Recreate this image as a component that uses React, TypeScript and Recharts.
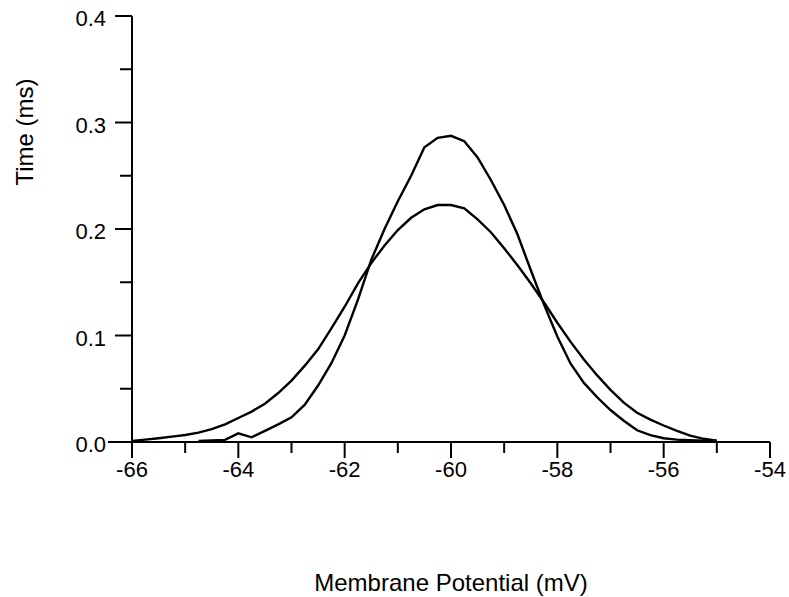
import React from 'react';
import { LineChart, Line, XAxis, YAxis } from 'recharts';

const wideX = [-66, -65.75, -65.5, -65.25, -65, -64.75, -64.5, -64.25, -64, -63.75, -63.5, -63.25, -63, -62.75, -62.5, -62.25, -62, -61.75, -61.5, -61.25, -61, -60.75, -60.5, -60.25, -60, -59.75, -59.5, -59.25, -59, -58.75, -58.5, -58.25, -58, -57.75, -57.5, -57.25, -57, -56.75, -56.5, -56.25, -56, -55.75, -55.5, -55.25, -55];
const wideY = [0.001, 0.0022, 0.0035, 0.005, 0.0066, 0.0088, 0.012, 0.0166, 0.0225, 0.0285, 0.036, 0.046, 0.0576, 0.0717, 0.087, 0.1067, 0.127, 0.149, 0.168, 0.1845, 0.199, 0.2105, 0.2185, 0.2225, 0.2225, 0.2194, 0.209, 0.197, 0.182, 0.166, 0.149, 0.131, 0.112, 0.094, 0.0775, 0.0625, 0.049, 0.037, 0.0275, 0.021, 0.0155, 0.0105, 0.006, 0.003, 0.0012];

const narrowX = [-64.75, -64.5, -64.25, -64, -63.75, -63.5, -63.25, -63, -62.75, -62.5, -62.25, -62, -61.75, -61.5, -61.25, -61, -60.75, -60.5, -60.25, -60, -59.75, -59.5, -59.25, -59, -58.75, -58.5, -58.25, -58, -57.75, -57.5, -57.25, -57, -56.75, -56.5, -56.25, -56, -55.75, -55.5, -55.25, -55];
const narrowY = [0.001, 0.0015, 0.002, 0.0081, 0.0044, 0.0105, 0.0166, 0.0232, 0.035, 0.053, 0.074, 0.1, 0.1336, 0.171, 0.2, 0.226, 0.25, 0.2767, 0.2856, 0.2875, 0.2824, 0.2672, 0.246, 0.2225, 0.195, 0.1615, 0.129, 0.099, 0.0735, 0.0555, 0.042, 0.03, 0.0199, 0.011, 0.0065, 0.0035, 0.0022, 0.0017, 0.0013, 0.001];

const xTicks = [-66, -65, -64, -63, -62, -61, -60, -59, -58, -57, -56, -55, -54];
const xMajor = [-66, -64, -62, -60, -58, -56, -54];
const yTicks = [0, 0.05, 0.1, 0.15, 0.2, 0.25, 0.3, 0.35, 0.4];
const yMajor = [0, 0.1, 0.2, 0.3, 0.4];

const xTitle = 'Membrane Potential (mV)';
const yTitle = 'Time (ms)';

const wideData = wideX.map((x, i) => ({ x, y: wideY[i] }));
const narrowData = narrowX.map((x, i) => ({ x, y: narrowY[i] }));

const FONT = '"Liberation Sans", Arial, sans-serif';

const XTick = (props: any) => {
  const { x, y, payload } = props;
  const v = payload.value;
  const major = xMajor.includes(v);
  return (
    <g>
      <line x1={x} x2={x} y1={y} y2={y + (major ? 16 : 11)} stroke="#000" strokeWidth={2} />
      {major && (
        <text x={x} y={y + 35} textAnchor="middle" fontSize={22} fontFamily={FONT} fill="#000">
          {String(v)}
        </text>
      )}
    </g>
  );
};

const YTick = (props: any) => {
  const { x, y, payload } = props;
  const v = payload.value;
  const major = yMajor.some((m) => Math.abs(m - v) < 1e-9);
  const len = v === 0 ? 24 : major ? 17 : 12;
  return (
    <g>
      <line x1={x - len} x2={x} y1={y} y2={y} stroke="#000" strokeWidth={2} />
      {major && (
        <text x={x - 26} y={y + 10} textAnchor="end" fontSize={22} fontFamily={FONT} fill="#000">
          {v.toFixed(1)}
        </text>
      )}
    </g>
  );
};

const XTitle = (props: any) => {
  const vb = props.viewBox || { x: 132, y: 442, width: 638, height: 155 };
  return (
    <text x={vb.x + vb.width / 2} y={vb.y + 149} textAnchor="middle" fontSize={24} fontFamily={FONT} fill="#000">
      {xTitle}
    </text>
  );
};

const YTitle = (props: any) => {
  const vb = props.viewBox || { x: 0, y: 16, width: 132, height: 426 };
  const cx = vb.x + 33;
  const cy = vb.y + 116;
  return (
    <text x={cx} y={cy} transform={`rotate(-90 ${cx} ${cy})`} textAnchor="middle" fontSize={24} fontFamily={FONT} fill="#000">
      {yTitle}
    </text>
  );
};

export default function App() {
  return (
    <div>
      <style>{'body{margin:0;background:#fff}'}</style>
      <LineChart width={789} height={597} margin={{ top: 16, right: 19, left: 0, bottom: 0 }}>
        <XAxis
          dataKey="x"
          type="number"
          domain={[-66, -54]}
          ticks={xTicks}
          interval={0}
          allowDataOverflow
          height={155}
          tickSize={0}
          tickMargin={0}
          tickLine={false}
          tick={<XTick />}
          axisLine={{ stroke: '#000', strokeWidth: 2 }}
          label={<XTitle />}
        />
        <YAxis
          type="number"
          domain={[0, 0.4]}
          ticks={yTicks}
          interval={0}
          allowDataOverflow
          width={132}
          tickSize={0}
          tickMargin={0}
          tickLine={false}
          tick={<YTick />}
          axisLine={{ stroke: '#000', strokeWidth: 2 }}
          label={<YTitle />}
        />
        <Line data={wideData} dataKey="y" type="linear" stroke="#000" strokeWidth={2.4} dot={false} isAnimationActive={false} />
        <Line data={narrowData} dataKey="y" type="linear" stroke="#000" strokeWidth={2.4} dot={false} isAnimationActive={false} />
      </LineChart>
    </div>
  );
}
